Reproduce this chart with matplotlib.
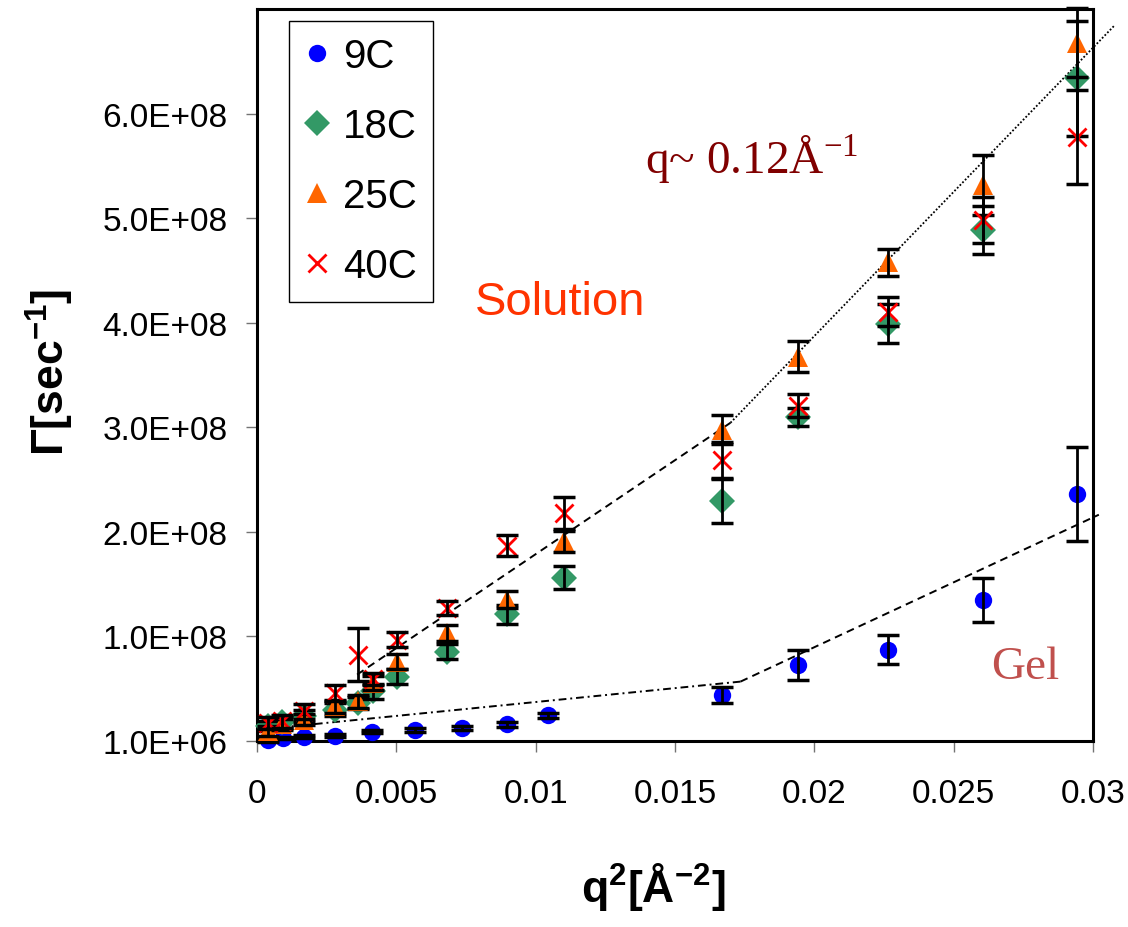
import matplotlib
matplotlib.use("Agg")
import matplotlib.pyplot as plt
import numpy as np

plt.rcParams["font.family"] = ["Liberation Sans", "DejaVu Sans"]
plt.rcParams["mathtext.fontset"] = "custom"
plt.rcParams["mathtext.rm"] = "Liberation Serif"
plt.rcParams["mathtext.bf"] = "Liberation Sans:bold"
plt.rcParams["mathtext.sf"] = "Liberation Sans"

# q^2 [1/A^2] for the 18C / 25C / 40C runs
q2 = np.array([0.000395, 0.0009, 0.00169, 0.0028, 0.00363, 0.00417, 0.00503,
               0.00682, 0.00898, 0.0110, 0.01667, 0.0194, 0.02263, 0.02604, 0.02942])
# the 9C run was measured at slightly different angles
q2_9c = np.array([0.000395, 0.00093, 0.00169, 0.0028, 0.00413, 0.00568, 0.00736,
                  0.00898, 0.01045, 0.01667, 0.0194, 0.02263, 0.02604, 0.02942])

# decay rates, in units of 1e8 1/s
g_9c = np.array([0.015, 0.043, 0.053, 0.062, 0.10, 0.113, 0.136, 0.168, 0.254,
                 0.454, 0.734, 0.884, 1.362, 2.375])
e_9c = np.array([0.01, 0.01, 0.01, 0.015, 0.015, 0.02, 0.02, 0.02, 0.02,
                 0.076, 0.143, 0.14, 0.21, 0.45])
g_18c = np.array([0.151, 0.187, 0.247, 0.311, 0.375, 0.486, 0.626, 0.863, 1.221,
                  1.569, 2.301, 3.107, 4.002, 4.897, 6.346])
e_18c = np.array([0.05, 0.05, 0.06, 0.06, 0.06, 0.07, 0.07, 0.07, 0.09, 0.11,
                  0.21, 0.086, 0.19, 0.23, 0.55])
g_25c = np.array([0.104, 0.168, 0.215, 0.342, 0.390, 0.566, 0.77, 1.044, 1.362,
                  1.919, 2.986, 3.686, 4.586, 5.327, 6.686])
e_25c = np.array([0.05, 0.05, 0.05, 0.06, 0.06, 0.07, 0.07, 0.08, 0.08, 0.1,
                  0.14, 0.15, 0.13, 0.29, 0.33])
g_40c = np.array([0.184, 0.199, 0.295, 0.470, 0.836, 0.604, 0.980, 1.283, 1.878,
                  2.190, 2.699, 3.215, 4.116, 4.992, 5.788])
e_40c = np.array([0.06, 0.06, 0.07, 0.08, 0.25, 0.06, 0.07, 0.07, 0.1, 0.15,
                  0.17, 0.11, 0.14, 0.22, 0.45])

# guide lines (end points, 1e8 1/s)
sol_dash_q = [0.003592, 0.01699]
sol_dash_g = [0.645, 3.053]
sol_dot_q = [0.01699, 0.030747]
sol_dot_g = [3.053, 6.846]
gel_dashdot_q = [0.000826, 0.01735]
gel_dashdot_g = [0.139, 0.578]
gel_dash_q = [0.01735, 0.03021]
gel_dash_g = [0.578, 2.174]

x_ticks = [0, 0.005, 0.01, 0.015, 0.02, 0.025, 0.03]
x_ticklabels = ["0", "0.005", "0.01", "0.015", "0.02", "0.025", "0.03"]
y_ticks = [1e6 + k * 1e8 for k in range(7)]
y_ticklabels = ["1.0E+06", "1.0E+08", "2.0E+08", "3.0E+08", "4.0E+08", "5.0E+08", "6.0E+08"]

series = [
    ("9C", q2_9c, g_9c, e_9c, "o", "#0000FF", 12.5),
    ("18C", q2, g_18c, e_18c, "D", "#339966", 13),
    ("25C", q2, g_25c, e_25c, "^", "#FF6600", 14),
    ("40C", q2, g_40c, e_40c, "x", "#FF0000", 13.5),
]

fig = plt.figure(figsize=(11.28, 9.28), dpi=100)
ax = fig.add_axes([257 / 1128, 1 - 742 / 928, 836 / 1128, 732 / 928])

# fit lines, drawn a bit past the frame like in the original
ax.plot(sol_dash_q, np.array(sol_dash_g) * 1e8, color="black", lw=1.4,
        linestyle=(0, (4, 2.7)), clip_on=False, zorder=1)
ax.plot(sol_dot_q, np.array(sol_dot_g) * 1e8, color="black", lw=1.3,
        linestyle=(0, (1, 1.1)), clip_on=False, zorder=1)
ax.plot(gel_dashdot_q, np.array(gel_dashdot_g) * 1e8, color="black", lw=1.4,
        linestyle=(0, (4, 2, 1, 2)), clip_on=False, zorder=1)
ax.plot(gel_dash_q, np.array(gel_dash_g) * 1e8, color="black", lw=1.4,
        linestyle=(0, (4, 2.7)), clip_on=False, zorder=1)

handles = []
for i, (label, qq, gg, ee, mk, col, ms) in enumerate(series):
    z = 3 + 2 * i
    if mk == "x":
        (h,) = ax.plot(qq, gg * 1e8, mk, ms=ms, mec=col, mew=2.0, label=label,
                       clip_on=False, zorder=z)
    else:
        (h,) = ax.plot(qq, gg * 1e8, mk, ms=ms, mfc=col, mec=col, mew=0,
                       label=label, clip_on=False, zorder=z)
    ax.errorbar(qq, gg * 1e8, yerr=ee * 1e8, fmt="none", ecolor="black",
                elinewidth=2.0, capsize=8, capthick=2.5, clip_on=False,
                zorder=z + 1)
    handles.append(h)

ax.set_xlim(0, 0.03)
ax.set_ylim(1e6, 7.01e8)
ax.set_xticks(x_ticks)
ax.set_xticklabels(x_ticklabels)
ax.set_yticks(y_ticks)
ax.set_yticklabels(y_ticklabels)
ax.tick_params(axis="both", direction="out", length=8, width=1.0, color="0.45",
               labelsize=24, labelcolor="black")
ax.tick_params(axis="x", pad=19)
ax.tick_params(axis="y", pad=13)
for sp in ax.spines.values():
    sp.set_linewidth(2.2)
    sp.set_color("black")

ax.set_xlabel(r"$\mathbf{q^{2}[Å^{-2}]}$", fontsize=32)
ax.xaxis.set_label_coords((653 - 257) / 836, -0.163)
ax.set_ylabel(r"$\mathbf{Γ[sec^{-1}]}$", fontsize=32)
ax.yaxis.set_label_coords(-0.2165, 0.505)

ax.text(0.01394, 5.441e8, r"q~ 0.12Å$^{\mathrm{-1}}$", family="Liberation Serif",
        fontsize=34, color="#800000", ha="left", va="baseline")
ax.text(0.01088, 4.094e8, "Solution", fontsize=34, color="#FF3300",
        ha="center", va="baseline")
ax.text(0.02633, 0.617e8, "Gel", family="Liberation Serif", fontsize=34,
        color="#C0504D", ha="left", va="baseline")

leg = ax.legend(handles=handles, labels=[s[0] for s in series], loc="upper left",
                bbox_to_anchor=(0.038, 0.984), borderaxespad=0, fontsize=29,
                frameon=True, fancybox=False, framealpha=1, edgecolor="black",
                borderpad=0.4, handlelength=0.6, handletextpad=0.35,
                labelspacing=0.8)
leg.get_frame().set_linewidth(1.0)
leg.set_zorder(20)

fig.savefig("out.png", dpi=100)
